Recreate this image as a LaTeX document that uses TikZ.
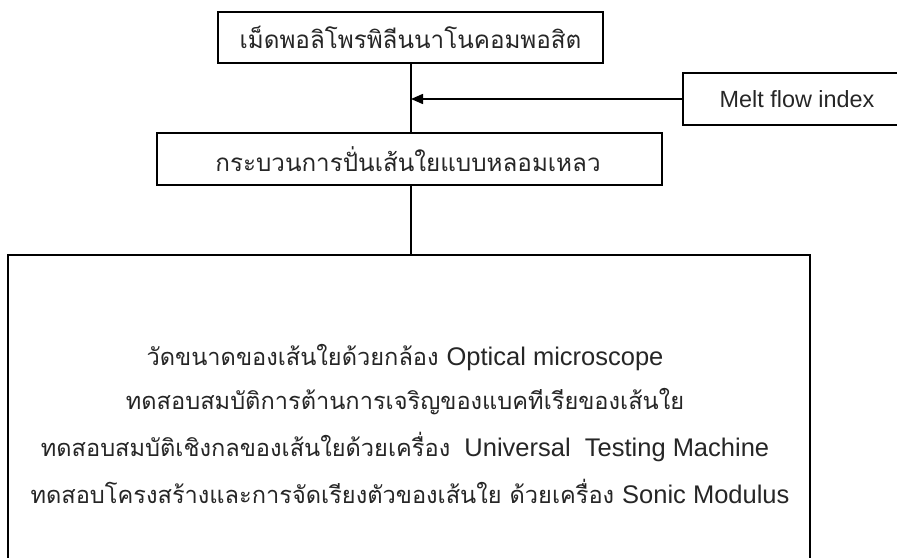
\documentclass[tikz,border=0pt]{standalone}
\usepackage{fontspec}
\setmainfont[Script=Thai]{Loma}
\newfontfamily\latinfont{Liberation Sans}
\usetikzlibrary{arrows.meta}
\newcommand{\lat}[1]{{\latinfont\fontsize{25.5}{30}\selectfont #1}}
\begin{document}
\begin{tikzpicture}[x=1pt,y=-1pt,
  boxline/.style={draw=black,line width=2pt},
  txt/.style={font=\fontsize{24.2}{28}\selectfont,text=black!85},
  bigtxt/.style={font=\fontsize{23.6}{28}\selectfont,text=black!85,inner sep=0pt},
  conn/.style={draw=black,line width=1.5pt}]
\useasboundingbox (0,0) rectangle (897,557);
\clip (0,0) rectangle (897,557);
% boxes
\node[boxline,minimum width=385pt,minimum height=51pt,inner sep=0pt] (top) at (410.5,37.5) {};
\node[txt] (toptext) at (410.5,37.5) {เม็ดพอลิโพรพิลีนนาโนคอมพอสิต};
\node[boxline,minimum width=505pt,minimum height=52pt,inner sep=0pt] (mid) at (409.5,159) {};
\node[txt] (midtext) at (408,159) {กระบวนการปั่นเส้นใยแบบหลอมเหลว};
\node[boxline,minimum width=240pt,minimum height=52pt,inner sep=0pt] (melt) at (803,99) {};
\node[txt,font=\latinfont\fontsize{23.4}{27}\selectfont] (melttext) at (797,99) {Melt flow index};
\node[boxline,minimum width=802pt,minimum height=339pt,inner sep=0pt] (big) at (409,424.5) {};
\node[bigtxt] (l1) at (405,358) {วัดขนาดของเส้นใยด้วยกล้อง \lat{Optical microscope}};
\node[bigtxt] (l2) at (405,402) {ทดสอบสมบัติการต้านการเจริญของแบคทีเรียของเส้นใย};
\node[bigtxt] (l3) at (405,447) {ทดสอบสมบัติเชิงกลของเส้นใยด้วยเครื่อง\lat{~ Universal~ Testing Machine}};
\node[bigtxt] (l4) at (410,491) {ทดสอบโครงสร้างและการจัดเรียงตัวของเส้นใย ด้วยเครื่อง \lat{Sonic Modulus}};
% connectors
\coordinate (join) at (411,99);
\draw[conn] (top.south -| join) -- (mid.north -| join);
\draw[conn] (mid.south -| join) -- (big.north -| join);
\draw[conn,-{Triangle[length=12pt,width=10pt]}] (melt.west) -- (join);
\end{tikzpicture}
\end{document}
